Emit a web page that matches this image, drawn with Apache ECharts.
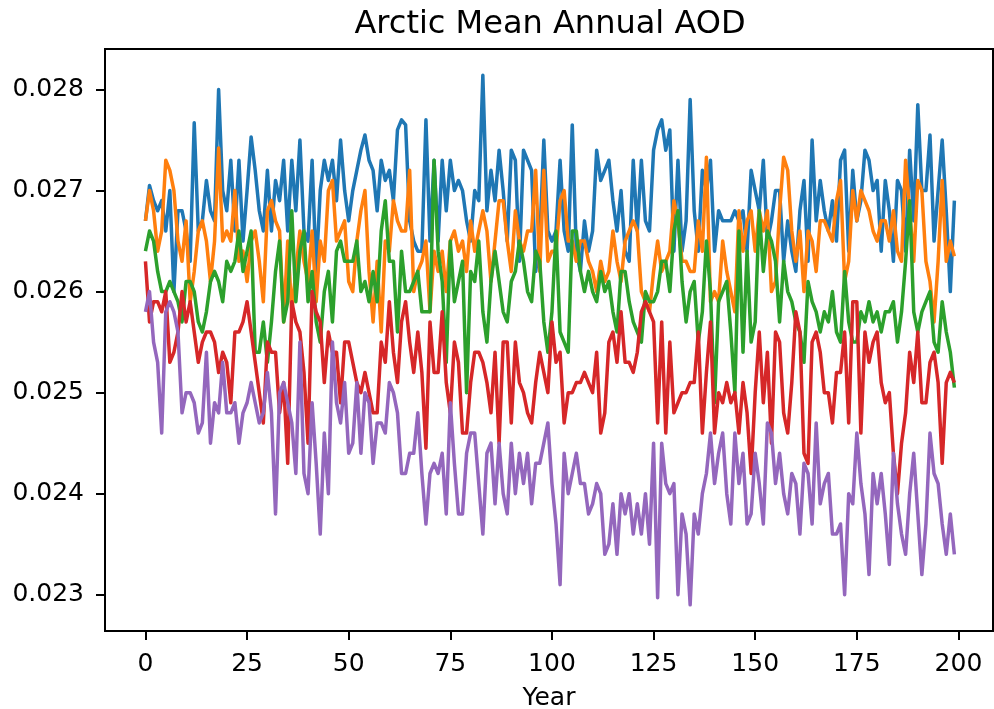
<!DOCTYPE html>
<html><head><meta charset="utf-8">
<script src="https://cdn.jsdelivr.net/npm/echarts@6/dist/echarts.min.js"></script>
<style>html,body{margin:0;padding:0;background:#fff}#c{width:994px;height:709px}</style>
</head><body><div id="c"></div>
<script>
const title = 'Arctic Mean Annual AOD';
const xLabel = 'Year';
const xTicks = [0, 25, 50, 75, 100, 125, 150, 175, 200];
const yTicks = [0.023, 0.024, 0.025, 0.026, 0.027, 0.028];
const years = Array.from({length: 200}, (_, i) => i);

const blue = [0.0267,0.02705,0.0269,0.0268,0.0269,0.0266,0.0270,0.0260,0.0268,0.0268,0.0266,0.0263,0.02767,0.0266,0.0267,0.0271,0.0268,0.0267,0.0280,0.0270,0.0268,0.0273,0.0266,0.0273,0.0265,0.0270,0.02753,0.0272,0.0268,0.0266,
0.0272,0.0266,0.0271,0.0269,0.0273,0.0266,0.0273,0.0268,0.0275,0.0266,0.0265,0.0273,0.0262,0.0270,0.0273,0.0271,0.0273,0.0269,0.0275,0.0270,
0.0267,0.0270,0.0272,0.0274,0.02755,0.0273,0.0272,0.0268,0.0273,0.0271,0.0272,0.0269,0.0276,0.0277,0.02765,0.0267,0.0265,0.0264,0.0264,0.0277,
0.0265,0.0273,0.0265,0.0273,0.0268,0.0273,0.0270,0.0271,0.0270,0.0267,0.0265,0.0270,0.0269,0.02814,0.0268,0.0272,0.0269,0.0274,0.0270,0.0265,
0.0274,0.0273,0.0263,0.0274,0.0273,0.0272,0.0262,0.0265,0.0275,0.0266,0.0265,0.0266,0.0273,0.0266,0.0264,0.02765,0.0264,0.0262,0.0267,0.0264,
0.0266,0.0274,0.0271,0.0272,0.0273,0.0269,0.0266,0.0270,0.0264,0.0263,0.0273,0.0266,0.0273,0.0267,0.0266,0.0274,0.0276,0.0277,0.0274,0.0276,
0.0264,0.0273,0.0264,0.0267,0.0279,0.0268,0.0264,0.0272,0.0270,0.0273,0.0264,0.0268,0.0267,0.0267,0.0267,0.0268,0.0267,0.0268,0.0264,0.0272,
0.0270,0.0268,0.0273,0.0265,0.0267,0.0270,0.0270,0.0263,0.0267,0.0264,0.0262,0.0268,0.0271,0.0263,0.0275,0.0267,0.0271,0.0268,0.0266,0.0269,
0.0265,0.0273,0.0274,0.0264,0.0272,0.0267,0.0269,0.0274,0.0273,0.0270,0.0271,0.0264,0.0271,0.0268,0.0263,0.0271,0.0270,0.0264,0.0274,0.0267,
0.02785,0.0270,0.0270,0.02755,0.0265,0.0270,0.0275,0.0268,0.0260,0.0269];

const orange = [0.0267,0.0270,0.0268,0.0264,0.0266,0.0273,0.0272,0.0270,0.0265,0.0263,0.0267,0.0259,0.0262,0.0266,0.0267,0.0265,0.0261,0.0265,0.02742,0.0265,
0.0266,0.0265,0.0270,0.0263,0.0264,0.0261,0.0265,0.0266,0.0263,0.0259,0.0268,0.0269,0.0267,0.0266,0.0257,0.0265,0.0258,0.0262,0.0266,0.0263,
0.0261,0.0266,0.0259,0.0265,0.0263,0.0270,0.0271,0.0265,0.0266,0.0267,0.0261,0.0260,0.0265,0.0268,0.0270,0.0262,0.0257,0.0263,0.0256,0.0265,
0.0264,0.0269,0.0267,0.0266,0.0266,0.0272,0.0260,0.0262,0.0263,0.0265,0.0258,0.0264,0.0262,0.0264,0.0260,0.0265,0.0266,0.0264,0.0265,0.0262,
0.0267,0.0264,0.0266,0.0268,0.0266,0.0261,0.0265,0.0269,0.0269,0.0265,0.0262,0.0268,0.0265,0.0264,0.0266,0.0266,0.0272,0.0262,0.0272,0.0263,
0.0264,0.0264,0.0269,0.0270,0.0265,0.0265,0.0263,0.0265,0.0265,0.0263,0.0262,0.0260,0.0263,0.0261,0.0262,0.0266,0.0263,0.0261,0.0265,0.0266,
0.0267,0.0266,0.0260,0.0259,0.0258,0.0262,0.0265,0.0262,0.0263,0.0264,0.0269,0.0267,0.0263,0.0263,0.0262,0.0262,0.0267,0.0264,0.02733,0.0259,
0.0260,0.0259,0.0265,0.0262,0.0260,0.0258,0.0268,0.0264,0.0267,0.0268,0.0264,0.0268,0.0266,0.0268,0.0260,0.0261,0.0268,0.02733,0.0272,0.0266,
0.0263,0.0266,0.0260,0.0266,0.0265,0.0262,0.0267,0.0267,0.0266,0.0265,0.0269,0.0271,0.0261,0.0263,0.0270,0.0267,0.0270,0.0269,0.0268,0.0266,
0.0265,0.0267,0.0267,0.0265,0.0268,0.0264,0.0263,0.0273,0.0268,0.0263,0.0271,0.0270,0.0263,0.0261,0.0257,0.0263,0.0271,0.0263,0.0265,0.02635];

const green = [0.0264,0.0266,0.0265,0.0262,0.0260,0.0260,0.0261,0.0260,0.0259,0.0257,0.0261,0.0261,0.0260,0.0257,0.0256,0.0258,0.0261,0.0262,0.0261,0.0259,
0.0263,0.0262,0.0263,0.0266,0.0262,0.0264,0.0266,0.0254,0.0254,0.0257,0.0253,0.0257,0.0262,0.0265,0.0257,0.0259,0.0268,0.0259,0.0264,0.0266,
0.0259,0.0262,0.0257,0.0255,0.0260,0.0262,0.0257,0.0264,0.0265,0.0263,0.0263,0.0263,0.0265,0.0260,0.0261,0.0259,0.0262,0.0259,0.0266,0.0269,
0.0263,0.0263,0.0256,0.0264,0.0260,0.0260,0.0261,0.0262,0.0258,0.0258,0.0258,0.0273,0.0264,0.0261,0.0253,0.0265,0.0259,0.0261,0.0263,0.0250,
0.0262,0.0261,0.0265,0.0258,0.0255,0.0261,0.0264,0.0261,0.0258,0.0257,0.0261,0.0262,0.0265,0.0263,0.0260,0.0259,0.0264,0.0263,0.0257,0.0254,
0.0258,0.0266,0.0256,0.0255,0.0254,0.0266,0.0266,0.0262,0.0260,0.0262,0.0260,0.0259,0.0262,0.0260,0.0261,0.0258,0.0256,0.0262,0.0262,0.0259,
0.0257,0.0256,0.0255,0.0260,0.0259,0.0259,0.0260,0.0263,0.0263,0.0260,0.0266,0.0268,0.0261,0.0257,0.0260,0.0261,0.0255,0.0258,0.0265,0.0260,
0.0249,0.0259,0.0260,0.0261,0.0256,0.0250,0.0266,0.0254,0.0264,0.0255,0.0257,0.0268,0.0262,0.0266,0.0265,0.0263,0.0257,0.0263,0.0260,0.0259,
0.0257,0.0256,0.0253,0.0261,0.0259,0.0258,0.0256,0.0258,0.0257,0.0260,0.0256,0.0255,0.0262,0.0257,0.0255,0.0255,0.0258,0.0257,0.0259,0.0257,
0.0258,0.0256,0.0258,0.0258,0.0259,0.0255,0.0258,0.0263,0.0269,0.0258,0.0256,0.0258,0.0259,0.0260,0.0255,0.0254,0.0259,0.0256,0.0254,0.02505];

const red = [0.0263,0.0257,0.0259,0.0259,0.0258,0.0260,0.0253,0.0254,0.0256,0.0260,0.0257,0.0259,0.0256,0.0253,0.0255,0.0256,0.0256,0.0255,0.0252,0.0254,
0.0253,0.0249,0.0256,0.0256,0.0257,0.0259,0.0256,0.0253,0.0250,0.0247,0.0255,0.0254,0.0254,0.0248,0.0251,0.0243,0.0259,0.0257,0.0256,0.0252,
0.0245,0.0260,0.0258,0.0257,0.0251,0.0256,0.0254,0.0254,0.0249,0.0255,0.0255,0.0253,0.0251,0.0250,0.0252,0.0250,0.0248,0.0248,0.0255,0.0253,
0.0259,0.0254,0.0251,0.0257,0.0259,0.0255,0.0252,0.0256,0.0252,0.02445,0.0257,0.0252,0.0252,0.0258,0.0251,0.0248,0.0255,0.0253,0.0246,0.0246,
0.0251,0.0254,0.0254,0.0253,0.0251,0.0248,0.0254,0.0245,0.0255,0.0255,0.0247,0.0255,0.0251,0.0250,0.0248,0.0247,0.0251,0.0254,0.0252,0.0250,
0.0257,0.0253,0.0254,0.0247,0.0250,0.0250,0.0251,0.0251,0.0252,0.0251,0.0250,0.0254,0.0246,0.0248,0.0255,0.0256,0.0253,0.0258,0.0253,0.0253,
0.0252,0.0254,0.0258,0.0259,0.0258,0.0257,0.0247,0.0257,0.0246,0.0255,0.0248,0.0249,0.0250,0.0250,0.0251,0.0251,0.0256,0.0246,0.0252,0.0257,
0.0246,0.0250,0.0249,0.0251,0.0249,0.0250,0.0246,0.0251,0.0248,0.0242,0.0250,0.0256,0.0249,0.0254,0.0245,0.0256,0.0255,0.0248,0.0246,0.0251,
0.0258,0.0256,0.0244,0.0243,0.0255,0.0256,0.0254,0.0250,0.0250,0.0247,0.0252,0.0252,0.0256,0.0247,0.0259,0.0259,0.0246,0.0256,0.0253,0.0255,
0.0256,0.0251,0.0249,0.0250,0.0244,0.0240,0.0245,0.0248,0.0254,0.0251,0.0256,0.0249,0.0249,0.0253,0.0254,0.0251,0.0243,0.0251,0.0252,0.0251];

const purple = [0.0258,0.0260,0.0255,0.0253,0.0246,0.0258,0.0259,0.0258,0.0256,0.0248,0.0250,0.0250,0.0249,0.0246,0.0247,0.0254,0.0245,0.0249,0.0248,0.0253,
0.0248,0.0248,0.0249,0.0245,0.0248,0.0249,0.0251,0.0249,0.0247,0.0248,0.0252,0.0248,0.0238,0.0250,0.0251,0.0249,0.0247,0.0242,0.0255,0.0242,
0.0240,0.0249,0.0243,0.0236,0.0246,0.0240,0.0255,0.0249,0.0247,0.0251,0.0244,0.0245,0.0251,0.0244,0.0250,0.0249,0.0243,0.0247,0.0247,0.0246,
0.0251,0.0250,0.0248,0.0242,0.0242,0.0244,0.0244,0.0248,0.0242,0.0237,0.0242,0.0243,0.0242,0.0244,0.0238,0.0249,0.0243,0.0238,0.0238,0.0244,
0.0246,0.0246,0.0241,0.0236,0.0244,0.0245,0.0239,0.0245,0.0240,0.0238,0.0245,0.0240,0.0244,0.0241,0.0244,0.0239,0.0243,0.0243,0.0245,0.0247,
0.0241,0.0237,0.0231,0.0244,0.0240,0.0242,0.0244,0.0241,0.0241,0.0238,0.0239,0.0241,0.0240,0.0234,0.0235,0.0239,0.0234,0.0240,0.0238,0.0240,
0.0236,0.0239,0.0236,0.0240,0.0235,0.0245,0.02297,0.0245,0.0241,0.0240,0.0241,0.0230,0.0238,0.0236,0.0229,0.0238,0.0236,0.0240,0.0242,0.0246,
0.0241,0.0244,0.0246,0.0240,0.0237,0.0246,0.0241,0.0244,0.0237,0.0238,0.0244,0.0241,0.0237,0.0247,0.0246,0.0241,0.0244,0.0240,0.0238,0.0242,
0.0241,0.0236,0.0243,0.0242,0.0237,0.0247,0.0239,0.0241,0.0242,0.0236,0.0236,0.0237,0.0230,0.0240,0.0239,0.0246,0.0241,0.0238,0.0232,0.0242,
0.0239,0.0242,0.0238,0.0233,0.0244,0.0239,0.0236,0.0234,0.0240,0.0244,0.0238,0.0232,0.0237,0.0246,0.0242,0.0241,0.0237,0.0234,0.0238,0.0234];

const seriesNames = ['s0', 's1', 's2', 's3', 's4'];
const seriesData = [blue, orange, green, red, purple];
const colors = ['#1f77b4', '#ff7f0e', '#2ca02c', '#d62728', '#9467bd'];

const chart = echarts.init(document.getElementById('c'), null, {renderer: 'canvas'});
const FONT = 'DejaVu Sans';
chart.setOption({
  animation: false,
  backgroundColor: '#ffffff',
  title: {
    text: title, left: 550, top: 9, textAlign: 'center', padding: 0,
    textStyle: {fontFamily: FONT, fontSize: 32, fontWeight: 'normal', color: '#000'}
  },
  grid: {left: 105, top: 49, right: 1, bottom: 78, containLabel: false,
    outerBoundsMode: 'none',
    show: true, borderColor: '#000', borderWidth: 2, backgroundColor: 'transparent'},
  xAxis: {
    type: 'value', min: -9.95, max: 208.5,
    name: xLabel, nameLocation: 'middle', nameGap: 55,
    nameTextStyle: {fontFamily: FONT, fontSize: 25, color: '#000'},
    axisLine: {show: true, onZero: false, lineStyle: {color: '#000', width: 2}},
    axisTick: {show: true, length: 9, lineStyle: {color: '#000', width: 2}, customValues: xTicks},
    axisLabel: {fontFamily: FONT, fontSize: 25, color: '#000', margin: 21, customValues: xTicks},
    splitLine: {show: false}
  },
  yAxis: {
    type: 'value', min: 0.022641, max: 0.028401,
    axisLine: {show: true, onZero: false, lineStyle: {color: '#000', width: 2}},
    axisTick: {show: true, length: 9, lineStyle: {color: '#000', width: 2}, customValues: yTicks},
    axisLabel: {fontFamily: FONT, fontSize: 25, color: '#000', margin: 21, customValues: yTicks,
      formatter: v => v.toFixed(3)},
    splitLine: {show: false}
  },
  series: seriesData.map((arr, k) => ({
    name: seriesNames[k], type: 'line', showSymbol: false, symbol: 'none',
    data: years.map((yr, i) => [yr, arr[i]]),
    lineStyle: {color: colors[k], width: 3.5, join: 'round', cap: 'butt'},
    itemStyle: {color: colors[k]},
    z: 2 + k
  }))
});
</script></body></html>
